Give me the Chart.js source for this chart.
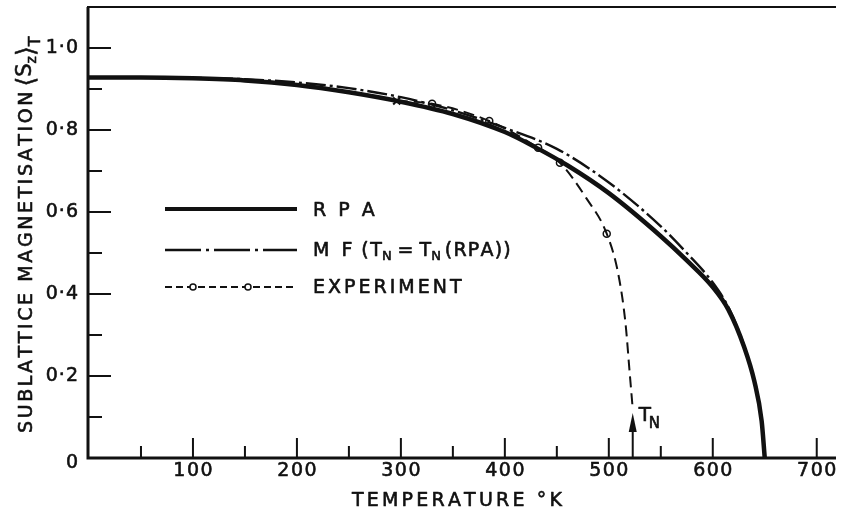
<!DOCTYPE html>
<html>
<head>
<meta charset="utf-8">
<script src="https://cdn.jsdelivr.net/npm/chart.js@4.4.1/dist/chart.umd.min.js"></script>
<style>
  html, body { margin: 0; padding: 0; background: #fff; }
  canvas { display: block; }
</style>
</head>
<body>
<canvas id="c" width="841" height="514"></canvas>
<script>
// temperatures (K) and sublattice magnetisation
const rpaTemp = [0, 50, 100, 150, 200, 250, 300, 350, 400, 430, 460, 500, 550, 575, 600, 615, 630, 640, 647, 650];
const rpaMag  = [0.928, 0.928, 0.926, 0.921, 0.910, 0.892, 0.869, 0.839, 0.795, 0.757, 0.714, 0.646, 0.541, 0.482, 0.417, 0.362, 0.272, 0.187, 0.090, 0.0];

const mfTemp = [0, 50, 100, 150, 200, 250, 300, 350, 400, 450, 500, 550, 575, 600, 615, 630, 640, 647, 650];
const mfMag  = [0.928, 0.928, 0.927, 0.924, 0.916, 0.902, 0.880, 0.848, 0.805, 0.754, 0.672, 0.565, 0.500, 0.428, 0.368, 0.275, 0.188, 0.091, 0.0];

// dashed experimental curve, measured points and the cross
const expTemp = [296, 330, 385, 432, 453, 478, 498, 509, 516, 520, 523];
const expMag  = [0.871, 0.864, 0.822, 0.757, 0.720, 0.635, 0.547, 0.45, 0.33, 0.21, 0.12];
const expPointTemp = [330, 385, 432, 453, 498];
const expPointMag  = [0.864, 0.822, 0.757, 0.720, 0.547];
const crossTemp = [296];
const crossMag  = [0.871];

const xMajor = [100, 200, 300, 400, 500, 600, 700];
const xMinor = [50, 150, 250, 350, 450, 550, 650];
const yMajor = [0.2, 0.4, 0.6, 0.8, 1.0];
const yMinor = [0.1, 0.3, 0.5, 0.7, 0.9];
const yLabels = ['0·2', '0·4', '0·6', '0·8', '1·0'];
const tNeel = 523;

const ink = '#111';
const FONT = '"DejaVu Sans", sans-serif';

function pts(xs, ys) {
    return xs.map((v, i) => ({ x: v, y: ys[i] }));
}

function spacedWidth(ctx, s, sp) {
    let w = 0;
    for (const ch of s) w += ctx.measureText(ch).width;
    return w + sp * (s.length - 1);
}

// text drawn letter by letter, slightly stroked to get the heavy lettering
function spacedText(ctx, s, x, y, sp) {
    for (const ch of s) {
        ctx.fillText(ch, x, y);
        ctx.strokeText(ch, x, y);
        x += ctx.measureText(ch).width + sp;
    }
    return x - sp;
}

function put(ctx, s, x, y) {
    ctx.fillText(s, x, y);
    ctx.strokeText(s, x, y);
    return x + ctx.measureText(s).width;
}

const frame = {
    id: 'frame',
    afterDatasetsDraw(chart) {
        const { ctx, chartArea: a, scales: { x, y } } = chart;
        ctx.save();
        ctx.strokeStyle = ink;
        ctx.fillStyle = ink;
        ctx.lineCap = 'butt';

        // frame
        ctx.lineWidth = 3;
        ctx.beginPath();
        ctx.moveTo(a.left - 1, a.top);
        ctx.lineTo(a.left - 1, a.bottom);
        ctx.lineTo(a.right + 2, a.bottom);
        ctx.stroke();
        ctx.lineWidth = 2;
        ctx.beginPath();
        ctx.moveTo(a.left - 2, a.top);
        ctx.lineTo(a.right + 2, a.top);
        ctx.stroke();

        // ticks pointing inward
        ctx.lineWidth = 2;
        ctx.beginPath();
        xMajor.forEach(v => { const px = x.getPixelForValue(v); ctx.moveTo(px, a.bottom); ctx.lineTo(px, a.bottom - 20); });
        xMinor.forEach(v => { const px = x.getPixelForValue(v); ctx.moveTo(px, a.bottom); ctx.lineTo(px, a.bottom - 12); });
        yMajor.forEach(v => { const py = y.getPixelForValue(v); ctx.moveTo(a.left, py); ctx.lineTo(a.left + 22, py); });
        yMinor.forEach(v => { const py = y.getPixelForValue(v); ctx.moveTo(a.left, py); ctx.lineTo(a.left + 13, py); });
        ctx.stroke();

        ctx.lineWidth = 0.6;
        ctx.lineJoin = 'round';

        // tick labels
        ctx.font = '19px ' + FONT;
        ctx.textBaseline = 'middle';
        xMajor.forEach(v => {
            const s = String(v);
            const w = spacedWidth(ctx, s, 1.5);
            spacedText(ctx, s, x.getPixelForValue(v) - w / 2, a.bottom + 13, 1.5);
        });
        yMajor.forEach((v, i) => {
            const w = spacedWidth(ctx, yLabels[i], 1);
            spacedText(ctx, yLabels[i], 78 - w, y.getPixelForValue(v), 1);
        });
        put(ctx, '0', 72 - ctx.measureText('0').width / 2, a.bottom + 5);

        // x axis title
        const xt = 'TEMPERATURE °K';
        const xw = spacedWidth(ctx, xt, 3.2);
        spacedText(ctx, xt, 457 - xw / 2, 501, 3.2);

        // y axis title
        ctx.save();
        ctx.translate(27, 433);
        ctx.rotate(-Math.PI / 2);
        ctx.font = '19px ' + FONT;
        let ex = spacedText(ctx, 'SUBLATTICE MAGNETISATION', 0, 0, 2.6);
        ex += 5;
        ctx.font = '25px ' + FONT;
        ex = put(ctx, '⟨', ex, 0);
        ctx.font = '21px ' + FONT;
        ex = put(ctx, 'S', ex, -1);
        ctx.font = '14px ' + FONT;
        ex = put(ctx, 'z', ex, 5);
        ctx.font = '25px ' + FONT;
        ex = put(ctx, '⟩', ex, 0);
        ctx.font = '16px ' + FONT;
        put(ctx, 'T', ex, 9);
        ctx.restore();

        // legend
        const lx0 = 165, lx1 = 297, tx = 313;
        ctx.lineWidth = 4;
        ctx.beginPath(); ctx.moveTo(lx0, 209); ctx.lineTo(lx1, 209); ctx.stroke();
        ctx.lineWidth = 2.5;
        ctx.setLineDash([36, 5, 3, 5]);
        ctx.beginPath(); ctx.moveTo(lx0, 250); ctx.lineTo(lx1, 250); ctx.stroke();
        ctx.lineWidth = 2;
        ctx.setLineDash([7, 4]);
        ctx.beginPath(); ctx.moveTo(lx0, 287); ctx.lineTo(lx1, 287); ctx.stroke();
        ctx.setLineDash([]);
        ctx.lineWidth = 1.5;
        [193, 248].forEach(cx => {
            ctx.beginPath(); ctx.arc(cx, 287, 3, 0, Math.PI * 2);
            ctx.fillStyle = '#fff'; ctx.fill(); ctx.stroke();
        });
        ctx.fillStyle = ink;
        ctx.lineWidth = 0.6;

        ctx.font = '19px ' + FONT;
        spacedText(ctx, 'R P A', tx, 211, 3);
        let mx = spacedText(ctx, 'M F', tx, 251, 3) + 9;
        mx = spacedText(ctx, '(T', mx, 251, 1.5);
        ctx.font = '13px ' + FONT;
        mx = put(ctx, 'N', mx, 257) + 6;
        ctx.font = '19px ' + FONT;
        mx = spacedText(ctx, '=', mx, 251, 0) + 6;
        mx = put(ctx, 'T', mx, 251);
        ctx.font = '13px ' + FONT;
        mx = put(ctx, 'N', mx, 257) + 4;
        ctx.font = '19px ' + FONT;
        spacedText(ctx, '(RPA))', mx, 251, 1.2);
        spacedText(ctx, 'EXPERIMENT', tx, 288, 3);

        // T_N arrow
        const ax = x.getPixelForValue(tNeel);
        const tip = y.getPixelForValue(0.11);
        ctx.lineWidth = 2;
        ctx.beginPath(); ctx.moveTo(ax, a.bottom); ctx.lineTo(ax, tip + 10); ctx.stroke();
        ctx.beginPath();
        ctx.moveTo(ax, tip); ctx.lineTo(ax - 4, tip + 19); ctx.lineTo(ax + 4, tip + 19);
        ctx.closePath(); ctx.fill();
        ctx.lineWidth = 0.6;
        ctx.font = '20px ' + FONT;
        put(ctx, 'T', ax + 6, tip + 3);
        ctx.font = '15px ' + FONT;
        put(ctx, 'N', ax + 16, tip + 11);

        ctx.restore();
    }
};

new Chart(document.getElementById('c'), {
    type: 'scatter',
    data: {
        datasets: [
            {
                label: 'RPA',
                data: pts(rpaTemp, rpaMag),
                showLine: true,
                borderColor: ink,
                borderWidth: 4.5,
                pointRadius: 0,
                cubicInterpolationMode: 'monotone'
            },
            {
                label: 'MF (TN = TN (RPA))',
                data: pts(mfTemp, mfMag),
                showLine: true,
                borderColor: ink,
                borderWidth: 2.4,
                borderDash: [20, 4, 3, 4],
                pointRadius: 0,
                cubicInterpolationMode: 'monotone'
            },
            {
                label: 'EXPERIMENT',
                data: pts(expTemp, expMag),
                showLine: true,
                borderColor: ink,
                borderWidth: 2,
                borderDash: [11, 6],
                pointRadius: 0,
                cubicInterpolationMode: 'monotone'
            },
            {
                label: 'EXPERIMENT points',
                data: pts(expPointTemp, expPointMag),
                showLine: false,
                borderColor: ink,
                backgroundColor: '#fff',
                borderWidth: 1.5,
                pointRadius: 3.5
            },
            {
                label: 'cross',
                data: pts(crossTemp, crossMag),
                showLine: false,
                pointStyle: 'crossRot',
                borderColor: ink,
                borderWidth: 2,
                pointRadius: 5
            }
        ]
    },
    options: {
        responsive: false,
        devicePixelRatio: 1,
        animation: false,
        layout: { padding: { left: 89, right: 1, top: 6, bottom: 56 } },
        plugins: { legend: { display: false }, tooltip: { enabled: false } },
        scales: {
            x: { type: 'linear', min: 0, max: 716.6, display: false },
            y: { min: 0, max: 1.1, display: false }
        }
    },
    plugins: [frame]
});
</script>
</body>
</html>
